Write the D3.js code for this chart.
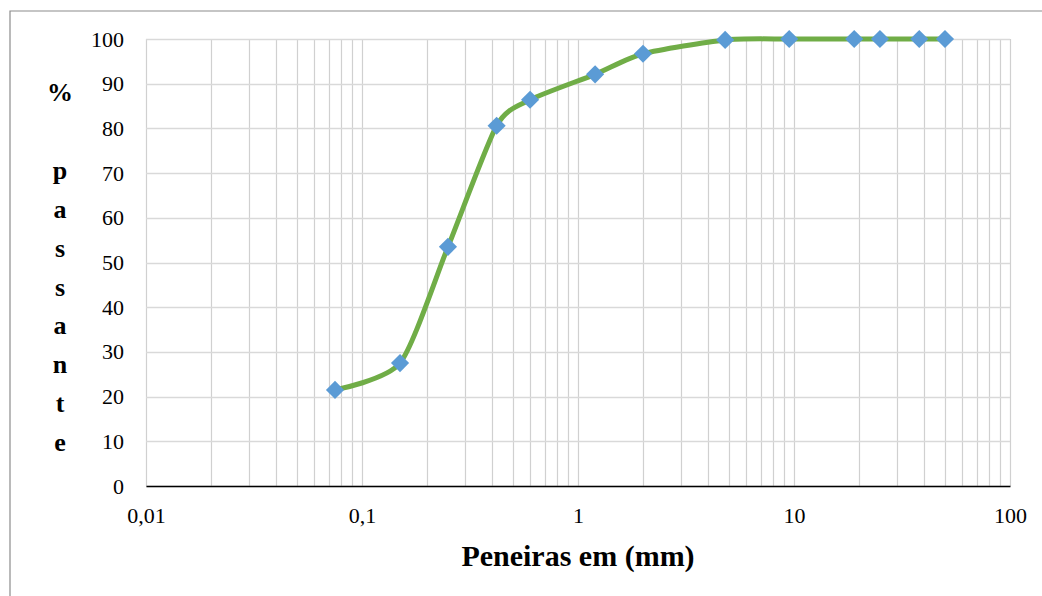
<!DOCTYPE html>
<html>
<head>
<meta charset="utf-8">
<script src="https://cdn.jsdelivr.net/npm/d3@7"></script>
<style>
  html, body { margin: 0; padding: 0; background: #fff; }
  svg text { font-family: "Liberation Serif", "Times New Roman", Times, serif !important; }
</style>
</head>
<body>
<div id="chart"></div>
<script>
// peneiras (mm) e % passante
const sieves = [0.075, 0.15, 0.25, 0.42, 0.6, 1.2, 2.0, 4.8, 9.5, 19, 25, 38, 50];
const passing = [21.5, 27.5, 53.5, 80.6, 86.4, 92.1, 96.7, 99.8, 100, 100, 100, 100, 100];
const xTicks = [0.01, 0.1, 1, 10, 100];
const xTickLabels = ['0,01', '0,1', '1', '10', '100'];
const yTicks = [0, 10, 20, 30, 40, 50, 60, 70, 80, 90, 100];
const yTitle = ['%', '', 'p', 'a', 's', 's', 'a', 'n', 't', 'e'];
const xTitle = 'Peneiras em (mm)';

const width = 1042, height = 596;
const margin = { left: 146, right: 32, top: 39, bottom: 110 };

const svg = d3.select('#chart').append('svg')
  .attr('width', width).attr('height', height);

// outer frame (left + top only visible)
svg.append('path')
  .attr('d', `M10,${height}V11H${width}`)
  .attr('fill', 'none').attr('stroke', '#8c8c8c').attr('stroke-width', 1.2);

const x = d3.scaleLog().domain([0.01, 100]).range([margin.left, width - margin.right]);
const y = d3.scaleLinear().domain([0, 100]).range([height - margin.bottom, margin.top]);

// vertical grid: 1..9 x each decade
const vGrid = [];
for (let d = 0.01; d < 100; d *= 10) {
  for (let k = 1; k <= 9; k++) vGrid.push(+(d * k).toPrecision(3));
}
vGrid.push(100);

const grid = svg.append('g').attr('class', 'grid');
grid.selectAll('line.v').data(vGrid).join('line')
  .attr('class', 'v')
  .attr('x1', d => Math.round(x(d)) + 0.5).attr('x2', d => Math.round(x(d)) + 0.5)
  .attr('y1', y(100)).attr('y2', y(0))
  .attr('stroke', '#d0d0d0').attr('stroke-width', 1.2);
grid.selectAll('line.h').data(yTicks).join('line')
  .attr('class', 'h')
  .attr('x1', x(0.01)).attr('x2', x(100))
  .attr('y1', d => Math.round(y(d)) + 0.5).attr('y2', d => Math.round(y(d)) + 0.5)
  .attr('stroke', '#d9d9d9').attr('stroke-width', 1.4);

// x axis
const xAxis = svg.append('g')
  .attr('transform', `translate(0,${y(0)})`)
  .call(d3.axisBottom(x).tickValues(xTicks).tickFormat((d, i) => xTickLabels[i]).tickSize(0).tickPadding(21));
xAxis.attr('font-family', null).attr('font-size', 22);
xAxis.select('.domain').attr('stroke', '#000').attr('stroke-width', 1.6);
xAxis.selectAll('text').attr('fill', '#000');

// y axis
const yAxis = svg.append('g')
  .attr('transform', `translate(${margin.left},0)`)
  .call(d3.axisLeft(y).tickValues(yTicks).tickSize(0).tickPadding(22));
yAxis.attr('font-family', null).attr('font-size', 22);
yAxis.select('.domain').remove();
yAxis.selectAll('text').attr('fill', '#000');

// curve
const pts = sieves.map((s, i) => [s, passing[i]]);
svg.append('path')
  .datum(pts)
  .attr('fill', 'none')
  .attr('stroke', '#70ad47').attr('stroke-width', 5)
  .attr('stroke-linecap', 'round').attr('stroke-linejoin', 'round')
  .attr('d', d3.line().x(d => x(d[0])).y(d => y(d[1])).curve(d3.curveCardinal.tension(0.3)));

// markers
svg.append('g').selectAll('path').data(pts).join('path')
  .attr('transform', d => `translate(${x(d[0])},${y(d[1])}) rotate(45)`)
  .attr('d', d3.symbol().type(d3.symbolSquare).size(165))
  .attr('fill', '#5b9bd5');

// titles
const yt = svg.append('text')
  .attr('font-weight', 'bold').attr('font-size', 26).attr('fill', '#000')
  .attr('text-anchor', 'middle');
yt.selectAll('tspan').data(yTitle).join('tspan')
  .attr('x', 60)
  .attr('y', (d, i) => 101 + i * 38.9)
  .text(d => d);

svg.append('text')
  .attr('x', (x(0.01) + x(100)) / 2).attr('y', 566)
  .attr('text-anchor', 'middle')
  .attr('font-weight', 'bold').attr('font-size', 30).attr('fill', '#000')
  .text(xTitle);
</script>
</body>
</html>
